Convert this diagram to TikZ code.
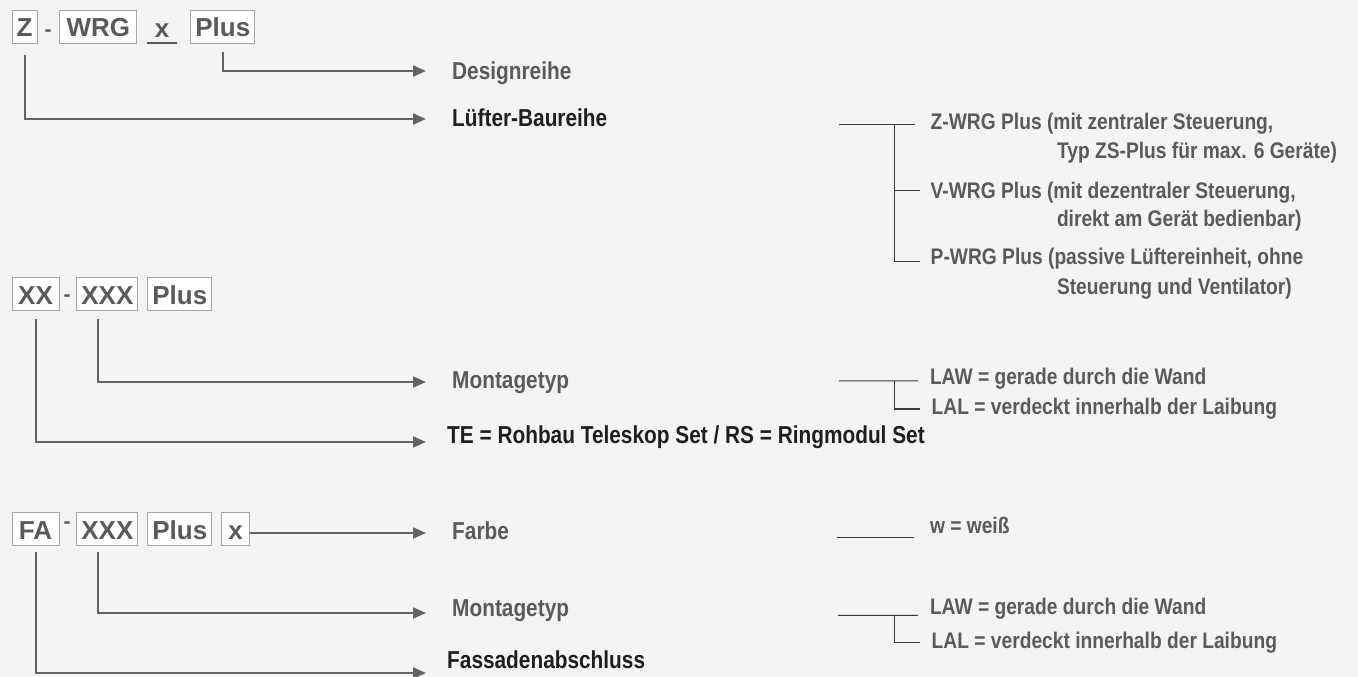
\documentclass[tikz,border=0pt]{standalone}
\usepackage{fontspec}
\setmainfont{Liberation Sans}
\newfontfamily\narrowfont{Liberation Sans}[FakeStretch=0.85]
\usetikzlibrary{positioning, arrows.meta}
\definecolor{paper}{HTML}{F4F4F4}
\definecolor{inkgray}{HTML}{5A5A5A}
\definecolor{inkdark}{HTML}{1E1E1E}
\definecolor{arrowgray}{HTML}{646464}
\definecolor{framegray}{HTML}{A6A6A6}
\definecolor{linedark}{HTML}{3A3A3A}

\begin{document}
\begin{tikzpicture}[x=1pt, y=-1pt, node distance=9pt,
  codebox/.style={draw=framegray, fill=white, line width=0.9pt, text=inkgray, font=\fontsize{26}{26}\selectfont\bfseries, inner sep=0pt, minimum height=33pt, text height=21pt, text depth=0pt},
  dashsign/.style={anchor=base, text=inkgray, font=\fontsize{21}{21}\selectfont\bfseries, inner sep=0pt},
  partname/.style={anchor=west, inner sep=0pt, text=inkgray, font=\narrowfont\fontsize{24.5}{24.5}\selectfont\bfseries, text height=17.5pt, text depth=0pt},
  choice/.style={anchor=west, inner sep=0pt, text=inkgray, font=\narrowfont\fontsize{22.6}{22.6}\selectfont\bfseries, text height=16.4pt, text depth=0pt},
  pointer/.style={draw=arrowgray, line width=2pt, -{Triangle[length=13pt, width=11pt]}},
  bracket/.style={draw=linedark, line width=1.1pt}]

\fill[paper] (0,0) rectangle (1358,677);
\useasboundingbox (0,0) rectangle (1358,677);

\node[codebox, minimum width=25pt] (z1) at (24.5,26.5) {Z};
\node[codebox, minimum width=77pt, right=22pt of z1] (wrg1) {WRG};
\node[dashsign] (dash1) at (48,36.5) {-};
\node[dashsign, font=\fontsize{26}{26}\selectfont\bfseries, minimum width=30pt] (x1) at (162,38) {x};
\node[codebox, minimum width=64pt, right=53pt of wrg1] (plus1) {Plus};
\draw[draw=inkgray, line width=1.2pt] ([yshift=-5pt]x1.base west) -- ([yshift=-5pt]x1.base east);

\node[codebox, minimum width=47pt] (xx2) at (35.5,293.5) {XX};
\node[codebox, minimum width=61pt, right=17pt of xx2] (xxx2) {XXX};
\node[codebox, minimum width=64pt, right=9pt of xxx2] (plus2) {Plus};
\node[dashsign] (dash2) at (67,301) {-};

\node[codebox, minimum width=47pt] (fa3) at (35.5,528.5) {FA};
\node[codebox, minimum width=61pt, right=17pt of fa3] (xxx3) {XXX};
\node[codebox, minimum width=64pt, right=9pt of xxx3] (plus3) {Plus};
\node[codebox, minimum width=28pt, right=9pt of plus3] (xs3) {x};
\node[dashsign] (dash3) at (67,528) {-};

\node[partname] (design) at (452,70.5) {Designreihe};
\node[partname, text=inkdark] (luefter) at (452,117.5) {Lüfter-Baureihe};
\node[partname] (mont2) at (452,380) {Montagetyp};
\node[partname, text=inkdark] (tese) at (447,434.5) {TE = Rohbau Teleskop Set / RS = Ringmodul Set};
\node[partname] (farbe) at (452,531) {Farbe};
\node[partname] (mont3) at (452,607.5) {Montagetyp};
\node[partname, text=inkdark] (fassade) at (447,659.5) {Fassadenabschluss};

\draw[pointer] ([yshift=-9pt]plus1.south) |- ([shift={(-26pt,-0.5pt)}]design.west);
\draw[pointer] ([yshift=-12pt]z1.south) |- ([shift={(-26pt,-1.5pt)}]luefter.west);
\draw[pointer] ([shift={(-9.5pt,-9pt)}]xxx2.south) |- ([shift={(-26pt,-2pt)}]mont2.west);
\draw[pointer] ([yshift=-9pt]xx2.south) |- ([shift={(-21pt,-7.5pt)}]tese.west);
\draw[pointer] ([yshift=-4.5pt]xs3.east) -- ([shift={(-26pt,-2pt)}]farbe.west);
\draw[pointer] ([shift={(-9.5pt,-7pt)}]xxx3.south) |- ([shift={(-26pt,-5.5pt)}]mont3.west);
\draw[pointer] ([yshift=-7pt]fa3.south) |- ([shift={(-21pt,-13.5pt)}]fassade.west);

\node[choice] (zwrg) at (930.5,121.4) {Z-WRG Plus (mit zentraler Steuerung,};
\node[choice] (zwrgb) at (1056.8,150.6) {Typ ZS-Plus für max. 6 Geräte)};
\node[choice] (vwrg) at (930.5,190.1) {V-WRG Plus (mit dezentraler Steuerung,};
\node[choice] (vwrgb) at (1056.8,218.7) {direkt am Gerät bedienbar)};
\node[choice] (pwrg) at (930.5,256.3) {P-WRG Plus (passive Lüftereinheit, ohne};
\node[choice] (pwrgb) at (1056.8,286.2) {Steuerung und Ventilator)};
\coordinate (g1) at (839,124.7);
\draw[bracket] (g1) -- ([shift={(-16pt,-3.3pt)}]zwrg.west);
\draw[bracket] ([shift={(-35.7pt,-3.3pt)}]zwrg.west) |- ([shift={(-11pt,-5pt)}]pwrg.west);
\draw[bracket] ([shift={(-35.7pt,-0.8pt)}]vwrg.west) -- ([shift={(-11pt,-0.8pt)}]vwrg.west);

\node[choice] (law2) at (929.8,376.6) {LAW = gerade durch die Wand};
\node[choice] (lal2) at (931.5,405.8) {LAL = verdeckt innerhalb der Laibung};
\coordinate (g2) at (839,380.9);
\draw[bracket] (g2) -- ([shift={(-12pt,-4.3pt)}]law2.west);
\draw[bracket] ([shift={(-35pt,-4.3pt)}]law2.west) |- ([shift={(-12pt,-3.2pt)}]lal2.west);

\node[choice] (weiss) at (929.8,525.5) {w = weiß};
\coordinate (g3) at (836.5,537.2);
\draw[bracket] (g3) -- ([shift={(-15.4pt,-11.7pt)}]weiss.west);

\node[choice] (law3) at (929.8,605.8) {LAW = gerade durch die Wand};
\node[choice] (lal3) at (931.5,640.1) {LAL = verdeckt innerhalb der Laibung};
\coordinate (g4) at (838,615.4);
\draw[bracket] (g4) -- ([shift={(-12pt,-9.6pt)}]law3.west);
\draw[bracket] ([shift={(-35pt,-9.6pt)}]law3.west) |- ([shift={(-12pt,-2.8pt)}]lal3.west);
\end{tikzpicture}
\end{document}
